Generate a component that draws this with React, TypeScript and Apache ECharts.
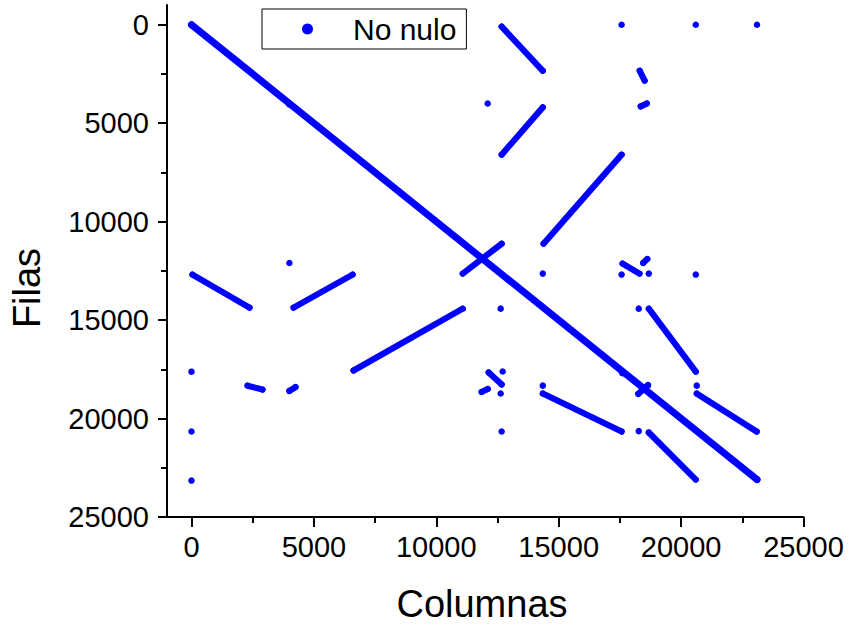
import React, { useEffect, useRef } from "react";
import * as echarts from "echarts";

// Main diagonal (column, row)
const diagX = [0, 23100];
const diagY = [0, 23100];

// Off-diagonal segments of non-zero entries: start/end (column, row)
const segX0 = [12670, 14350, 17570, 12670, 40, 4170, 6620, 2290, 12140, 14350, 17610, 18680, 20640, 18680, 18310, 18350, 11850, 4000, 18450, 18250];
const segY0 = [100, 4200, 6600, 11120, 12690, 14370, 17560, 18330, 17660, 18730, 12130, 14420, 18730, 20710, 2340, 4150, 18650, 18600, 12100, 18750];
const segX1 = [14350, 12670, 14380, 11080, 2370, 6580, 11080, 2900, 12670, 17570, 18300, 20600, 23090, 20600, 18510, 18600, 12100, 4250, 18620, 18650];
const segY1 = [2340, 6600, 11120, 12640, 14370, 12690, 14420, 18530, 18270, 20660, 12640, 17620, 20660, 23100, 2840, 4000, 18500, 18400, 11900, 18300];

// Isolated non-zero entries (column, row)
const dotX = [4000, 12100, 4000, 17570, 20600, 23100, 14350, 17570, 18680, 20600, 0, 0, 0, 12630, 12710, 12630, 12670, 14350, 18270, 18640, 20640, 18270, 17600];
const dotY = [4050, 4000, 12100, 0, 0, 0, 12640, 12690, 12640, 12690, 17620, 20660, 23150, 14420, 17610, 18730, 20660, 18330, 14420, 18330, 18330, 20640, 17700];

const majorTicks = [0, 5000, 10000, 15000, 20000, 25000];
const minorTicks = [2500, 7500, 12500, 17500, 22500];

const BLUE = "#0000FF";
const FONT = "Arial, 'Liberation Sans', sans-serif";

export default function App() {
  const ref = useRef<HTMLDivElement>(null);
  useEffect(() => {
    if (!ref.current) return;
    const chart = echarts.init(ref.current, undefined, { renderer: "svg" });

    const mkLine = (data: number[][], w: number) => ({
      name: "No nulo",
      type: "line",
      xAxisIndex: 0,
      yAxisIndex: 0,
      data,
      symbol: "circle",
      symbolSize: w,
      showSymbol: true,
      showAllSymbol: true,
      lineStyle: { color: BLUE, width: w, cap: "round", opacity: 1 },
      itemStyle: { color: BLUE, borderWidth: 0, opacity: 1 },
      emphasis: { disabled: true },
      silent: true,
    });

    const lineSeries: any[] = [mkLine(diagX.map((x, i) => [x, diagY[i]]), 7)];
    segX0.forEach((x0, i) => {
      lineSeries.push(
        mkLine(
          [
            [x0, segY0[i]],
            [segX1[i], segY1[i]],
          ],
          6.2
        )
      );
    });

    const fmt = (v: number) => String(v);

    chart.setOption({
      animation: false,
      backgroundColor: "#ffffff",
      grid: { left: 167, right: 46.5, top: 5, bottom: 111, containLabel: false },
      legend: {
        data: [{ name: "No nulo", icon: "circle" }],
        left: 262,
        top: 9,
        orient: "horizontal",
        itemWidth: 11,
        itemHeight: 11,
        borderColor: "#000",
        borderWidth: 1,
        borderRadius: 0,
        padding: [4, 10, 4, 40],
        textStyle: {
          fontSize: 30,
          fontFamily: FONT,
          color: "#000",
          lineHeight: 32,
          padding: [0, 0, 0, 35],
        },
        selectedMode: false,
      },
      xAxis: [
        {
          type: "value",
          min: -1000,
          max: 25000,
          splitLine: { show: false },
          position: "bottom",
          axisLine: { show: true, onZero: false, lineStyle: { color: "#000", width: 2 } },
          axisTick: {
            show: true,
            inside: false,
            length: 10,
            customValues: majorTicks,
            lineStyle: { color: "#000", width: 2 },
          },
          axisLabel: {
            show: true,
            customValues: majorTicks,
            formatter: fmt,
            fontSize: 29,
            fontFamily: FONT,
            color: "#000",
            margin: 15,
          },
        },
        {
          type: "value",
          min: -1000,
          max: 25000,
          splitLine: { show: false },
          position: "bottom",
          axisLine: { show: false, onZero: false },
          axisTick: {
            show: true,
            inside: false,
            length: 6,
            customValues: minorTicks,
            lineStyle: { color: "#000", width: 2 },
          },
          axisLabel: { show: false },
        },
      ],
      yAxis: [
        {
          type: "value",
          min: -1000,
          max: 25000,
          splitLine: { show: false },
          inverse: true,
          position: "left",
          axisLine: { show: true, onZero: false, lineStyle: { color: "#000", width: 2 } },
          axisTick: {
            show: true,
            inside: false,
            length: 9,
            customValues: majorTicks,
            lineStyle: { color: "#000", width: 2 },
          },
          axisLabel: {
            show: true,
            customValues: majorTicks,
            formatter: fmt,
            fontSize: 29,
            fontFamily: FONT,
            color: "#000",
            margin: 18,
          },
        },
        {
          type: "value",
          min: -1000,
          max: 25000,
          splitLine: { show: false },
          inverse: true,
          position: "left",
          axisLine: { show: false, onZero: false },
          axisTick: {
            show: true,
            inside: false,
            length: 6,
            customValues: minorTicks,
            lineStyle: { color: "#000", width: 2 },
          },
          axisLabel: { show: false },
        },
      ],
      graphic: [
        {
          type: "text",
          x: 482,
          y: 604,
          style: {
            text: "Columnas",
            fontSize: 38,
            fontFamily: FONT,
            fill: "#000",
            textAlign: "center",
            textVerticalAlign: "middle",
          },
        },
        {
          type: "text",
          x: 27,
          y: 288,
          rotation: Math.PI / 2,
          style: {
            text: "Filas",
            fontSize: 38,
            fontFamily: FONT,
            fill: "#000",
            textAlign: "center",
            textVerticalAlign: "middle",
          },
        },
      ],
      series: [
        {
          name: "No nulo",
          type: "scatter",
          xAxisIndex: 0,
          yAxisIndex: 0,
          symbol: "circle",
          symbolSize: 6.5,
          itemStyle: { color: BLUE, opacity: 1 },
          emphasis: { disabled: true },
          data: dotX.map((x, i) => [x, dotY[i]]),
          silent: true,
        },
        ...lineSeries,
      ],
    });

    return () => chart.dispose();
  }, []);

  return <div ref={ref} style={{ width: 850, height: 628, position: "absolute", left: 0, top: 0 }} />;
}
